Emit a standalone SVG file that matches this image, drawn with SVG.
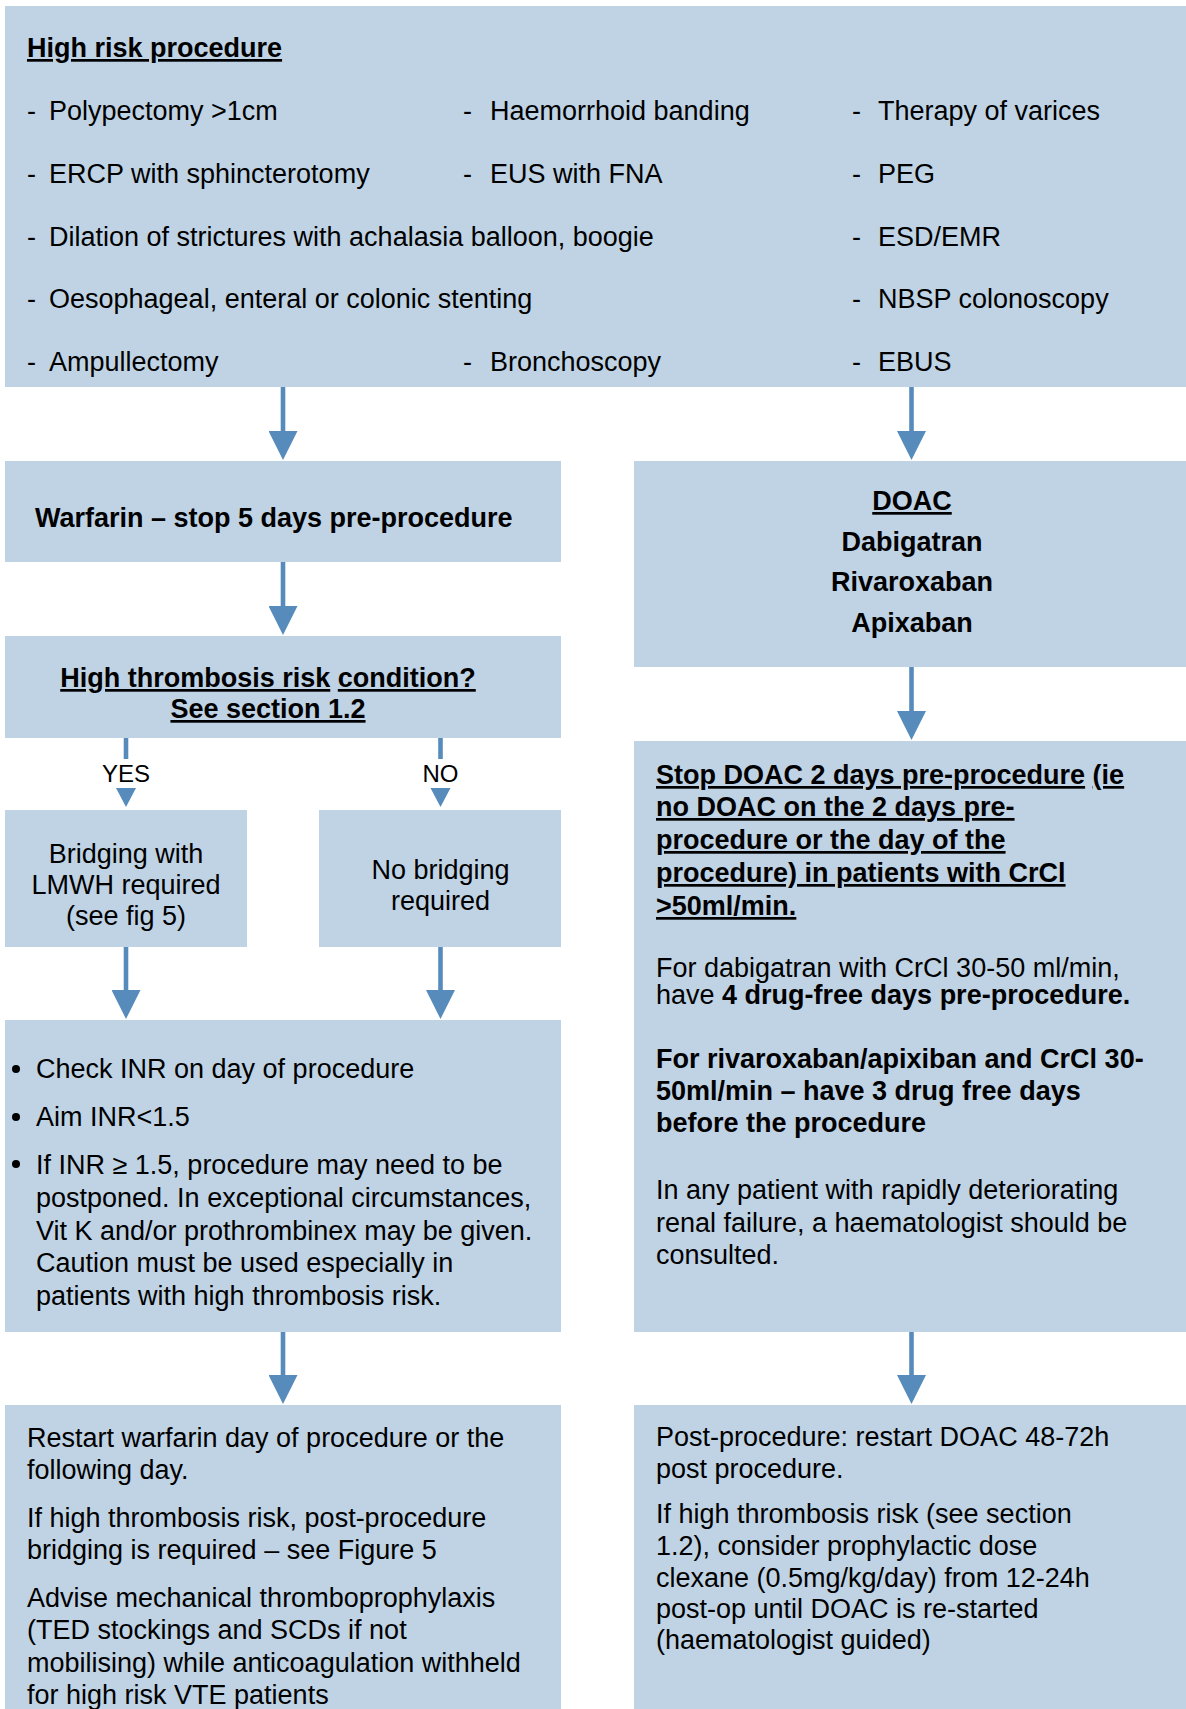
<svg xmlns="http://www.w3.org/2000/svg" width="1186" height="1709" viewBox="0 0 1186 1709">
<defs>
<style>
.box{fill:#BFD3E4;}
.t{font-family:"Liberation Sans",Arial,sans-serif;font-size:27px;fill:#000;}
.s{font-family:"Liberation Sans",Arial,sans-serif;font-size:24px;fill:#000;text-anchor:middle;}
.b{font-weight:bold;}
.u{text-decoration:underline;}
.c{text-anchor:middle;}
.conn{stroke:#568BBB;stroke-width:4.6;fill:none;}
.head{fill:#568BBB;}
</style>
<marker id="ah" markerUnits="userSpaceOnUse" markerWidth="29" markerHeight="29" viewBox="0 0 29 29" refX="0" refY="14.5" orient="auto">
<path d="M0,0 L29,14.5 L0,29 z" class="head"/>
</marker>
</defs>
<rect width="1186" height="1709" fill="#fff"/>

<g id="high-risk-procedure">
<rect class="box" x="5" y="6" width="1181" height="381"/>
<text class="t b u" x="27" y="57">High risk procedure</text>
<g class="t">
<text x="27" y="120">-</text><text x="49" y="120">Polypectomy &gt;1cm</text>
<text x="463" y="120">-</text><text x="490" y="120">Haemorrhoid banding</text>
<text x="852" y="120">-</text><text x="878" y="120">Therapy of varices</text>
<text x="27" y="183">-</text><text x="49" y="183">ERCP with sphincterotomy</text>
<text x="463" y="183">-</text><text x="490" y="183">EUS with FNA</text>
<text x="852" y="183">-</text><text x="878" y="183">PEG</text>
<text x="27" y="246">-</text><text x="49" y="246">Dilation of strictures with achalasia balloon, boogie</text>
<text x="852" y="246">-</text><text x="878" y="246">ESD/EMR</text>
<text x="27" y="308">-</text><text x="49" y="308">Oesophageal, enteral or colonic stenting</text>
<text x="852" y="308">-</text><text x="878" y="308">NBSP colonoscopy</text>
<text x="27" y="371">-</text><text x="49" y="371">Ampullectomy</text>
<text x="463" y="371">-</text><text x="490" y="371">Bronchoscopy</text>
<text x="852" y="371">-</text><text x="878" y="371">EBUS</text>
</g>
</g>

<g id="warfarin">
<rect class="box" x="5" y="461" width="556" height="101"/>
<text class="t b" x="35" y="527">Warfarin – stop 5 days pre-procedure</text>
</g>

<g id="doac">
<rect class="box" x="634" y="461" width="552" height="206"/>
<text class="t b c u" x="912" y="510">DOAC</text>
<text class="t b c" x="912" y="551">Dabigatran</text>
<text class="t b c" x="912" y="591">Rivaroxaban</text>
<text class="t b c" x="912" y="632">Apixaban</text>
</g>

<g id="high-thrombosis">
<rect class="box" x="5" y="636" width="556" height="102"/>
<text class="t b c" x="268" y="687"><tspan class="u">High thrombosis risk</tspan> <tspan class="u">condition?</tspan></text>
<text class="t b c u" x="268" y="718">See section 1.2</text>
</g>

<g id="bridging">
<rect class="box" x="5" y="810" width="242" height="137"/>
<text class="t c" x="126" y="863">Bridging with</text>
<text class="t c" x="126" y="894">LMWH required</text>
<text class="t c" x="126" y="925">(see fig 5)</text>
</g>

<g id="no-bridging">
<rect class="box" x="319" y="810" width="242" height="137"/>
<text class="t c" x="440.5" y="879">No bridging</text>
<text class="t c" x="440.5" y="910">required</text>
</g>

<g id="check-inr">
<rect class="box" x="5" y="1020" width="556" height="312"/>
<circle cx="16" cy="1069" r="4" fill="#000"/>
<circle cx="16" cy="1117" r="4" fill="#000"/>
<circle cx="16" cy="1164" r="4" fill="#000"/>
<g class="t">
<text x="36" y="1078">Check INR on day of procedure</text>
<text x="36" y="1126">Aim INR&lt;1.5</text>
<text x="36" y="1174">If INR ≥ 1.5, procedure may need to be</text>
<text x="36" y="1207">postponed. In exceptional circumstances,</text>
<text x="36" y="1240">Vit K and/or prothrombinex may be given.</text>
<text x="36" y="1272">Caution must be used especially in</text>
<text x="36" y="1305">patients with high thrombosis risk.</text>
</g>
</g>

<g id="stop-doac">
<rect class="box" x="634" y="741" width="552" height="591"/>
<g class="t">
<text class="b" x="656" y="784"><tspan class="u">Stop DOAC 2 days pre-procedure</tspan> <tspan class="u">(ie</tspan></text>
<text class="b u" x="656" y="816">no DOAC on the 2 days pre-</text>
<text class="b u" x="656" y="849">procedure or the day of the</text>
<text class="b u" x="656" y="882">procedure) in patients with CrCl</text>
<text class="b u" x="656" y="915">&gt;50ml/min.</text>
<text x="656" y="977">For dabigatran with CrCl 30-50 ml/min,</text>
<text x="656" y="1004">have <tspan class="b">4 drug-free days pre-procedure.</tspan></text>
<text class="b" x="656" y="1068">For rivaroxaban/apixiban and CrCl 30-</text>
<text class="b" x="656" y="1100">50ml/min – have 3 drug free days</text>
<text class="b" x="656" y="1132">before the procedure</text>
<text x="656" y="1199">In any patient with rapidly deteriorating</text>
<text x="656" y="1232">renal failure, a haematologist should be</text>
<text x="656" y="1264">consulted.</text>
</g>
</g>

<g id="restart-warfarin">
<rect class="box" x="5" y="1405" width="556" height="304"/>
<g class="t">
<text x="27" y="1447">Restart warfarin day of procedure or the</text>
<text x="27" y="1479">following day.</text>
<text x="27" y="1527">If high thrombosis risk, post-procedure</text>
<text x="27" y="1559">bridging is required – see Figure 5</text>
<text x="27" y="1607">Advise mechanical thromboprophylaxis</text>
<text x="27" y="1639">(TED stockings and SCDs if not</text>
<text x="27" y="1672">mobilising) while anticoagulation withheld</text>
<text x="27" y="1704">for high risk VTE patients</text>
</g>
</g>

<g id="restart-doac">
<rect class="box" x="634" y="1405" width="552" height="304"/>
<g class="t">
<text x="656" y="1446">Post-procedure: restart DOAC 48-72h</text>
<text x="656" y="1478">post procedure.</text>
<text x="656" y="1523">If high thrombosis risk (see section</text>
<text x="656" y="1555">1.2), consider prophylactic dose</text>
<text x="656" y="1587">clexane (0.5mg/kg/day) from 12-24h</text>
<text x="656" y="1618">post-op until DOAC is re-started</text>
<text x="656" y="1649">(haematologist guided)</text>
</g>
</g>

<g id="connectors">
<line class="conn" x1="283" y1="387" x2="283" y2="431" marker-end="url(#ah)"/>
<line class="conn" x1="911.5" y1="387" x2="911.5" y2="431" marker-end="url(#ah)"/>
<line class="conn" x1="283" y1="562" x2="283" y2="606" marker-end="url(#ah)"/>
<line class="conn" x1="911.5" y1="667" x2="911.5" y2="711" marker-end="url(#ah)"/>
<line class="conn" x1="126" y1="738" x2="126" y2="759"/>
<text class="s" x="126" y="782">YES</text>
<polygon class="head" points="116,788 136,788 126,807"/>
<line class="conn" x1="440.5" y1="738" x2="440.5" y2="759"/>
<text class="s" x="440.5" y="782">NO</text>
<polygon class="head" points="430.5,788 450.5,788 440.5,807"/>
<line class="conn" x1="126" y1="947" x2="126" y2="990" marker-end="url(#ah)"/>
<line class="conn" x1="440.5" y1="947" x2="440.5" y2="990" marker-end="url(#ah)"/>
<line class="conn" x1="283" y1="1332" x2="283" y2="1375" marker-end="url(#ah)"/>
<line class="conn" x1="911.5" y1="1332" x2="911.5" y2="1375" marker-end="url(#ah)"/>
</g>
</svg>
